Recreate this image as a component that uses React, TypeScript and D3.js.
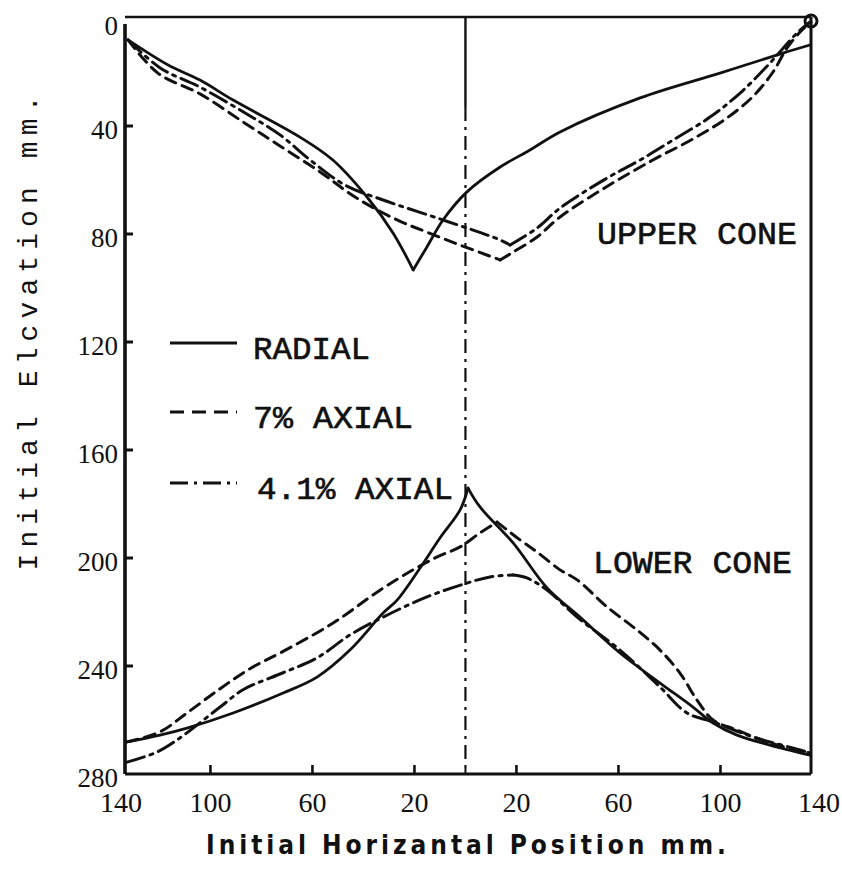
import React from 'react';
import * as d3 from 'd3';

// signed horizontal position: left half negative, right half positive (mm)
// elevation measured downward from the top (mm)

const radialUpperLeft: [number, number][] = [
  [-132.3, 8.1], [-116.6, 17.4], [-104.1, 23.0], [-91.1, 30.4], [-64.9, 44.1],
  [-52.0, 52.6], [-38.6, 66.3], [-28.4, 79.6], [-20.5, 93.3],
];
const radialUpperRight: [number, number][] = [
  [-20.5, 93.3], [-15.1, 84.8], [-8.8, 74.8], [0.6, 64.4], [13.6, 55.2], [25.3, 48.9],
  [37.1, 42.2], [68.5, 29.6], [99.8, 20.4], [124.5, 13.0], [135.1, 10.0],
];
const axial7UpperLeft: [number, number][] = [
  [-132.3, 8.1], [-120.6, 20.4], [-104.1, 28.1], [-87.2, 38.5], [-72.7, 47.4],
  [-57.0, 57.0], [-43.3, 66.3], [-26.8, 74.8], [-15.1, 79.3], [-2.1, 84.1], [13.6, 89.6],
];
const axial7UpperRight: [number, number][] = [
  [13.6, 89.6], [18.7, 86.7], [28.1, 81.1], [37.1, 73.7], [55.5, 62.4], [73.5, 52.6],
  [89.2, 44.8], [102.6, 37.0], [112.8, 29.0], [120.6, 20.0], [126.1, 11.1], [131.2, 5.2], [135.5, 1.5],
];
const axial41UpperLeft: [number, number][] = [
  [-132.3, 8.1], [-119.7, 18.5], [-104.1, 25.6], [-86.4, 35.2], [-72.7, 43.3],
  [-60.9, 52.6], [-47.2, 61.9], [-32.3, 67.4], [-8.8, 74.8], [13.6, 82.2], [17.5, 84.1],
];
const axial41UpperRight: [number, number][] = [
  [17.5, 84.1], [28.1, 77.8], [37.1, 70.4], [55.5, 59.3], [68.5, 52.6], [81.4, 45.2],
  [95.9, 36.7], [107.7, 27.8], [119.4, 16.7], [130.0, 5.6], [135.1, 1.5],
];

const radialLowerLeft: [number, number][] = [
  [-132.7, 268.1], [-119.8, 265.6], [-109.2, 263.0], [-91.1, 257.4], [-71.5, 250.0],
  [-58.2, 244.1], [-45.3, 234.1], [-32.3, 220.4], [-26.8, 215.6], [-17.8, 203.7],
  [-10.0, 192.6], [-2.1, 182.2], [1.0, 174.1],
];
const radialLowerRight: [number, number][] = [
  [1.0, 174.1], [5.7, 181.1], [18.7, 194.4], [32.0, 211.1], [44.9, 221.9], [60.6, 235.2],
  [76.3, 246.3], [89.2, 255.2], [97.1, 261.1], [106.5, 265.6], [119.4, 269.3], [135.1, 273.0],
];
const axial7LowerLeft: [number, number][] = [
  [-132.7, 268.1], [-119.8, 264.4], [-109.2, 257.4], [-96.2, 248.4], [-84.5, 241.0],
  [-71.5, 234.6], [-51.9, 224.1], [-33.5, 211.9], [-20.6, 204.4], [-11.1, 199.6],
  [-2.1, 195.9], [5.7, 190.7], [12.4, 186.7],
];
const axial7LowerRight: [number, number][] = [
  [12.4, 186.7], [21.4, 193.3], [28.1, 197.8], [37.1, 204.4], [43.8, 208.1], [55.5, 218.1],
  [67.3, 226.7], [76.3, 234.1], [84.1, 242.6], [90.8, 252.6], [97.1, 260.0], [106.5, 263.7],
  [119.4, 268.5], [135.1, 272.2],
];
const axial41LowerLeft: [number, number][] = [
  [-132.7, 275.6], [-121.0, 271.9], [-113.1, 267.4], [-96.2, 255.2], [-87.2, 248.8],
  [-71.5, 242.5], [-58.2, 237.0], [-45.3, 228.5], [-32.3, 221.9], [-15.1, 214.4],
  [0.6, 209.3], [9.6, 207.0], [18.7, 206.3],
];
const axial41LowerRight: [number, number][] = [
  [18.7, 206.3], [24.1, 207.4], [32.0, 211.9], [43.8, 221.9], [60.6, 234.1], [76.3, 247.8],
  [86.9, 257.4], [97.1, 260.7], [112.8, 266.3], [131.2, 271.1], [135.1, 272.2],
];

const yTicks = [0, 40, 80, 120, 160, 200, 240, 280];
const xTicks = [-100, -60, -20, 20, 60, 100];
const xTickLabels = [-140, -100, -60, -20, 20, 60, 100, 140];

const legendItems = [
  { label: 'RADIAL', dash: 'none' },
  { label: '7% AXIAL', dash: '14 8' },
  { label: '4.1% AXIAL', dash: '18 6 3 6' },
];

const mono = '"Liberation Mono", "DejaVu Sans Mono", monospace';
const serif = '"Liberation Serif", "DejaVu Serif", serif';
const ink = '#111';

export default function App() {
  const W = 842;
  const H = 883;
  const x = d3.scaleLinear().domain([-133.5, 135.5]).range([125, 811]).clamp(true);
  const y = d3.scaleLinear().domain([0, 280]).range([18, 774]);

  const line = d3
    .line<[number, number]>()
    .x(d => x(d[0]))
    .y(d => y(d[1]))
    .curve(d3.curveCatmullRom.alpha(0.5));

  const series = [
    { parts: [radialUpperLeft, radialUpperRight, radialLowerLeft, radialLowerRight], dash: 'none', w: 2.8 },
    { parts: [axial7UpperLeft, axial7UpperRight, axial7LowerLeft, axial7LowerRight], dash: '11 7', w: 3 },
    { parts: [axial41UpperLeft, axial41UpperRight, axial41LowerLeft, axial41LowerRight], dash: '18 6 3 6', w: 3 },
  ];

  const x0 = x.range()[0];
  const x1 = x.range()[1];
  const yTop = y(0);
  const yBot = y(280);

  const labelX = (t: number) => (t === 140 ? x1 + 8 : t === -140 ? x0 - 4 : x(t));

  return (
    <svg width={W} height={H} style={{ position: 'absolute', left: 0, top: 0, background: '#fff' }}>
      <rect width={W} height={H} fill="#fff" />

      {/* frame */}
      <line x1={x0} x2={x1} y1={yTop - 1} y2={yTop - 1} stroke={ink} strokeWidth={2.6} />
      <line x1={x1} x2={x1} y1={yTop - 1} y2={yBot} stroke={ink} strokeWidth={3} />
      <line x1={x0} x2={x1} y1={yBot} y2={yBot} stroke={ink} strokeWidth={3} />
      <line x1={x0} x2={x0} y1={yTop + 6} y2={yBot} stroke={ink} strokeWidth={3.6} />
      <circle cx={x1} cy={yTop + 3} r={6} fill="none" stroke={ink} strokeWidth={3} />

      {/* centre line */}
      <line x1={x(0)} x2={x(0)} y1={yTop} y2={y(33)} stroke={ink} strokeWidth={2.4} />
      <line x1={x(0)} x2={x(0)} y1={y(33)} y2={yBot} stroke={ink} strokeWidth={2.2} strokeDasharray="14 6 3 6" />

      {/* y ticks */}
      {yTicks.map(t => (
        <g key={'y' + t}>
          {t > 0 && t < 280 && (
            <line x1={x0} x2={x0 + 8} y1={y(t)} y2={y(t)} stroke={ink} strokeWidth={3} />
          )}
          <text x={118} y={y(t) + (t === 0 ? 17 : 13)} textAnchor="end" fontFamily={serif} fontSize={27} fill={ink}>
            {t}
          </text>
        </g>
      ))}

      {/* x ticks */}
      {xTicks.map(t => (
        <line key={'x' + t} x1={x(t)} x2={x(t)} y1={yBot} y2={yBot - 9} stroke={ink} strokeWidth={2.6} />
      ))}
      <line x1={x(0)} x2={x(0)} y1={yBot} y2={yBot - 6} stroke={ink} strokeWidth={2} />
      {xTickLabels.map(t => (
        <text key={'xl' + t} x={labelX(t)} y={812} textAnchor="middle"
          fontFamily={serif} fontSize={28} fill={ink}>
          {Math.abs(t)}
        </text>
      ))}

      {/* curves */}
      {series.map((s, i) =>
        s.parts.map((p, j) => (
          <path key={i + '-' + j} d={line(p) || ''} fill="none" stroke={ink} strokeWidth={s.w}
            strokeDasharray={s.dash} strokeLinecap="round" strokeLinejoin="round" />
        ))
      )}

      {/* legend */}
      {legendItems.map((it, i) => {
        const ly = [343, 412, 483][i];
        const tx = [253, 253, 257][i];
        const tl = [117, 160, 196][i];
        return (
          <g key={it.label}>
            <line x1={170} x2={237} y1={ly} y2={ly} stroke={ink} strokeWidth={3} strokeDasharray={it.dash} />
            <text x={tx} y={ly + 16} fontFamily={mono} fontSize={31} fill={ink} stroke={ink} strokeWidth={0.6}
              textLength={tl} lengthAdjust="spacingAndGlyphs">
              {it.label}
            </text>
          </g>
        );
      })}

      <text x={597} y={244} fontFamily={mono} fontSize={31} fill={ink} stroke={ink} strokeWidth={0.6}
        textLength={200} lengthAdjust="spacingAndGlyphs">UPPER CONE</text>
      <text x={593} y={573} fontFamily={mono} fontSize={31} fill={ink} stroke={ink} strokeWidth={0.6}
        textLength={199} lengthAdjust="spacingAndGlyphs">LOWER CONE</text>

      {/* axis titles */}
      <text transform="translate(37,333) rotate(-90)" textAnchor="middle" fontFamily={mono}
        fontSize={28} fill={ink} textLength={475} lengthAdjust="spacing">
        Initial Elcvation  mm.
      </text>
      <text x={466} y={854} textAnchor="middle" fontFamily='"DejaVu Sans Condensed", "DejaVu Sans", sans-serif'
        fontWeight="bold" fontSize={26} fill={ink} textLength={520} lengthAdjust="spacing">
        Initial Horizantal Position mm.
      </text>
    </svg>
  );
}
